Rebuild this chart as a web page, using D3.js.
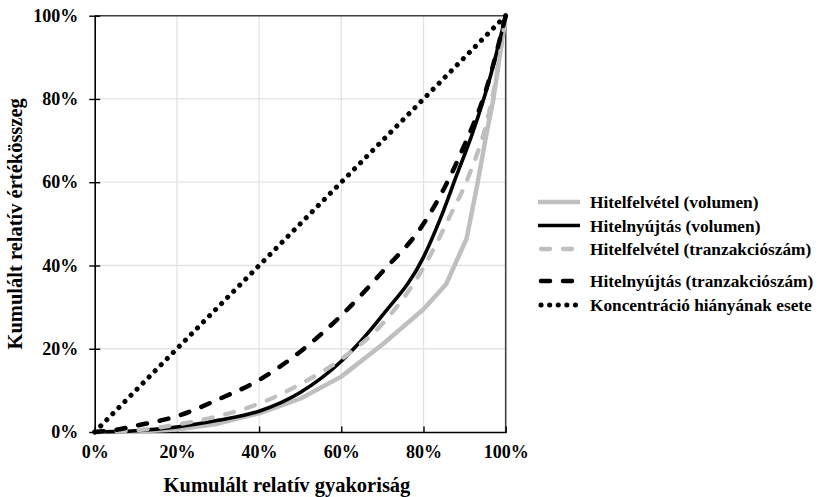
<!DOCTYPE html>
<html>
<head>
<meta charset="utf-8">
<script src="https://cdn.jsdelivr.net/npm/d3@7"></script>
<style>
  body { margin: 0; background: #fff; }
  text { font-family: "Liberation Serif", "Times New Roman", serif; font-weight: bold; fill: #000; }
</style>
</head>
<body>
<svg id="chart" width="822" height="497"></svg>
<script>
// values (cumulative %)
var felvetelVolX = [0, 10, 20, 30, 40, 50, 60, 70, 80, 85.5, 90.5, 93, 95.4, 97, 100];
var felvetelVolY = [0, 0.1, 0.6, 2, 4.5, 8, 13.3, 21, 29.5, 35.5, 46.5, 59, 72, 80, 100];

var nyujtasVolX = [0, 10, 20, 30, 40, 50, 60, 70, 80, 84, 88, 92, 96, 100];
var nyujtasVolY = [0, 0.3, 1.2, 2.8, 5, 9.5, 17, 28, 42, 51, 61.5, 72, 84.5, 100];

var felvetelTrX = [0, 10, 20, 30, 40, 50, 60, 70, 80, 86, 91.4, 95.4, 98, 100];
var felvetelTrY = [0, 0.4, 1.8, 3.8, 6.8, 11.5, 17.5, 26, 39.5, 51, 62.5, 74.5, 87, 100];

var nyujtasTrX = [0, 5, 10, 20, 30, 40, 50, 60, 70, 80, 85, 90, 95, 100];
var nyujtasTrY = [0, 0.5, 1.5, 3.8, 7.8, 12.5, 19.3, 28, 38.5, 50, 58.5, 69, 81.5, 100];

var egyenlosegX = [0, 100];
var egyenlosegY = [0, 100];

var ticks = [0, 20, 40, 60, 80, 100];

var seriesNames = [
  'Hitelfelvétel (volumen)',
  'Hitelnyújtás (volumen)',
  'Hitelfelvétel (tranzakciószám)',
  'Hitelnyújtás (tranzakciószám)',
  'Koncentráció hiányának esete'
];

function zip(xs, ys) { return xs.map(function(x, i) { return [x, ys[i]]; }); }

var series = [
  { name: seriesNames[0], pts: zip(felvetelVolX, felvetelVolY), color: '#bfbfbf', width: 4.5, dash: null, curve: d3.curveLinear },
  { name: seriesNames[1], pts: zip(nyujtasVolX, nyujtasVolY), color: '#000', width: 3.6, dash: null, curve: d3.curveMonotoneX },
  { name: seriesNames[2], pts: zip(felvetelTrX, felvetelTrY), color: '#bfbfbf', width: 4.3, dash: '9 13', curve: d3.curveMonotoneX },
  { name: seriesNames[3], pts: zip(nyujtasTrX, nyujtasTrY), color: '#000', width: 4.5, dash: '9 13', curve: d3.curveMonotoneX },
  { name: seriesNames[4], pts: zip(egyenlosegX, egyenlosegY), color: '#000', width: 5, dash: '0.1 8.5', curve: d3.curveLinear }
];

var svg = d3.select('#chart');
var margin = { left: 94.7, top: 15.7 },
    width = 411,
    height = 416.3;

var x = d3.scaleLinear().domain([0, 100]).range([0, width]);
var y = d3.scaleLinear().domain([0, 100]).range([height, 0]);

var g = svg.append('g').attr('transform', 'translate(' + margin.left + ',' + margin.top + ')');

// gridlines
g.selectAll('.vgrid').data(ticks.slice(1, -1)).enter().append('line')
  .attr('x1', d => x(d)).attr('x2', d => x(d)).attr('y1', 0).attr('y2', height)
  .attr('stroke', '#e3e3e3').attr('stroke-width', 1.3);
g.selectAll('.hgrid').data(ticks.slice(1, -1)).enter().append('line')
  .attr('y1', d => y(d)).attr('y2', d => y(d)).attr('x1', 0).attr('x2', width)
  .attr('stroke', '#e3e3e3').attr('stroke-width', 1.3);

// top & right border
g.append('path')
  .attr('d', 'M0,' + y(100) + 'H' + x(100) + 'V' + y(0))
  .attr('fill', 'none').attr('stroke', '#404040').attr('stroke-width', 1.6);

// axes
var xAxis = g.append('g').attr('transform', 'translate(0,' + height + ')')
  .call(d3.axisBottom(x).tickValues(ticks).tickSize(0).tickPadding(13).tickFormat(d => d + '%'));
xAxis.select('.domain').attr('stroke', '#000').attr('stroke-width', 1.6);
xAxis.selectAll('.tick line').remove();
xAxis.selectAll('.tick').append('line').attr('y1', -5.5).attr('y2', 1).attr('stroke', '#000').attr('stroke-width', 1.4);
xAxis.selectAll('text').attr('font-size', 18).attr('font-family', null);

var yAxis = g.append('g')
  .call(d3.axisLeft(y).tickValues(ticks).tickSize(0).tickPadding(16.5).tickFormat(d => d + '%'));
yAxis.select('.domain').attr('stroke', '#000').attr('stroke-width', 1.6);
yAxis.selectAll('.tick line').remove();
yAxis.selectAll('.tick').append('line').attr('x1', -5.5).attr('x2', 5.5).attr('stroke', '#000').attr('stroke-width', 1.4);
yAxis.selectAll('text').attr('font-size', 18).attr('font-family', null);

// series lines
series.forEach(function(s) {
  var line = d3.line().x(d => x(d[0])).y(d => y(d[1])).curve(s.curve);
  g.append('path')
    .datum(s.pts)
    .attr('d', line)
    .attr('fill', 'none')
    .attr('stroke', s.color)
    .attr('stroke-width', s.width)
    .attr('stroke-linecap', s.dash ? 'round' : 'butt')
    .attr('stroke-linejoin', 'round')
    .attr('stroke-dasharray', s.dash);
});

// axis titles
svg.append('text')
  .attr('x', 287).attr('y', 492)
  .attr('text-anchor', 'middle').attr('font-size', 20.5)
  .text('Kumulált relatív gyakoriság');
svg.append('text')
  .attr('transform', 'translate(22,' + (margin.top + height / 2) + ') rotate(-90)')
  .attr('text-anchor', 'middle').attr('font-size', 20.5)
  .text('Kumulált relatív értékösszeg');

// legend
var legendY = [202, 225.5, 249, 281, 305];
var legend = svg.append('g');
series.forEach(function(s, i) {
  var ly = legendY[i];
  legend.append('line')
    .attr('x1', s.dash ? 541 : 538).attr('x2', s.dash ? 577 : 580)
    .attr('y1', ly).attr('y2', ly)
    .attr('stroke', s.color).attr('stroke-width', s.width)
    .attr('stroke-linecap', s.dash ? 'round' : 'butt')
    .attr('stroke-dasharray', s.dash);
  legend.append('text')
    .attr('x', 590).attr('y', ly).attr('dy', '0.35em')
    .attr('font-size', 17.3)
    .text(s.name);
});
</script>
</body>
</html>
